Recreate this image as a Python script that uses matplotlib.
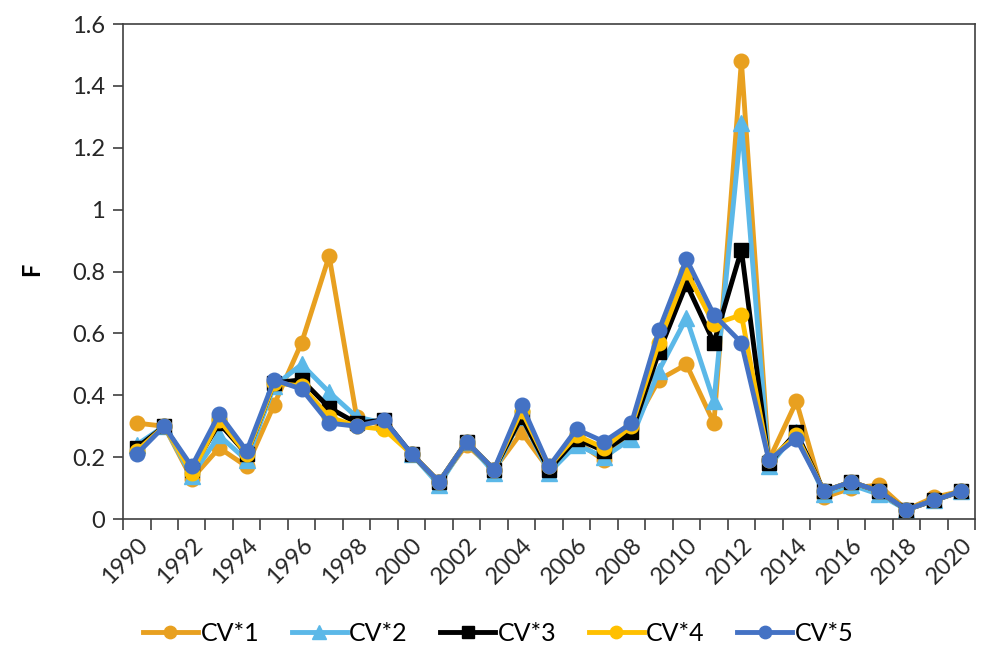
import matplotlib
matplotlib.use("Agg")
import matplotlib.pyplot as plt
import numpy as np

years = list(range(1990, 2021))
cv1 = [0.31, 0.30, 0.13, 0.23, 0.17, 0.37, 0.57, 0.85, 0.33, 0.30, 0.21, 0.12, 0.24, 0.16, 0.28, 0.16,
       0.25, 0.19, 0.29, 0.45, 0.50, 0.31, 1.48, 0.19, 0.38, 0.07, 0.10, 0.11, 0.03, 0.07, 0.09]
cv2 = [0.24, 0.30, 0.14, 0.27, 0.19, 0.43, 0.50, 0.41, 0.33, 0.31, 0.21, 0.11, 0.25, 0.15, 0.33, 0.15,
       0.24, 0.20, 0.26, 0.48, 0.65, 0.38, 1.28, 0.17, 0.28, 0.08, 0.11, 0.08, 0.03, 0.06, 0.09]
cv3 = [0.23, 0.30, 0.16, 0.31, 0.21, 0.44, 0.45, 0.36, 0.31, 0.32, 0.21, 0.12, 0.25, 0.16, 0.33, 0.16,
       0.26, 0.22, 0.28, 0.54, 0.76, 0.57, 0.87, 0.18, 0.28, 0.09, 0.12, 0.09, 0.03, 0.06, 0.09]
cv4 = [0.22, 0.30, 0.15, 0.32, 0.21, 0.44, 0.43, 0.33, 0.30, 0.29, 0.21, 0.12, 0.25, 0.16, 0.35, 0.17,
       0.27, 0.23, 0.30, 0.57, 0.80, 0.63, 0.66, 0.19, 0.27, 0.09, 0.12, 0.09, 0.03, 0.06, 0.09]
cv5 = [0.21, 0.30, 0.17, 0.34, 0.22, 0.45, 0.42, 0.31, 0.30, 0.32, 0.21, 0.12, 0.25, 0.16, 0.37, 0.17,
       0.29, 0.25, 0.31, 0.61, 0.84, 0.66, 0.57, 0.19, 0.26, 0.09, 0.12, 0.09, 0.03, 0.06, 0.09]
labels = ["CV*1", "CV*2", "CV*3", "CV*4", "CV*5"]
x_labels = [str(y) for y in range(1990, 2021, 2)]

plt.rcParams['font.family'] = ['Lato', 'DejaVu Sans']

fig = plt.figure(figsize=(9.81, 6.65), dpi=100)
ax = fig.add_axes([0.1254, 0.2195, 0.8685, 0.7444])

styles = [
    dict(color='#E8A020', marker='o', ms=10.5),
    dict(color='#5BB8E8', marker='^', ms=12),
    dict(color='#000000', marker='s', ms=10.5),
    dict(color='#FFC000', marker='o', ms=10.5),
    dict(color='#4472C4', marker='o', ms=10.5),
]
for data, lab, st in zip([cv1, cv2, cv3, cv4, cv5], labels, styles):
    ax.plot(years, data, label=lab, lw=3.5, color=st['color'], marker=st['marker'],
            markersize=st['ms'], markerfacecolor=st['color'], markeredgecolor=st['color'])

ax.set_xlim(1989.5, 2020.5)
ax.set_ylim(0, 1.6)
ax.set_yticks(np.arange(0, 1.61, 0.2))
ax.set_yticklabels(['0', '0.2', '0.4', '0.6', '0.8', '1', '1.2', '1.4', '1.6'])
ax.set_xticks(np.arange(1989.5, 2020.6, 1))
ax.set_xticklabels([])
ax.set_xticks(list(range(1990, 2021, 2)), minor=True)
ax.set_xticklabels(x_labels, minor=True, rotation=45, ha='right', rotation_mode='anchor')
ax.tick_params(axis='x', which='minor', length=0, pad=11, labelsize=17)
ax.tick_params(axis='x', which='major', length=8, width=1.2, color='#404040', direction='out')
ax.tick_params(axis='y', length=7, width=1.2, color='#404040', direction='out', labelsize=17, pad=6)
for lbl in ax.get_xticklabels(minor=True) + ax.get_yticklabels():
    lbl.set_color('#262626')
for s in ax.spines.values():
    s.set_color('#404040')
    s.set_linewidth(1.2)

fig.text(0.032, 0.595, 'F', rotation=90, fontsize=17, fontweight='bold', ha='center', va='center')

fig.legend(loc='center', bbox_to_anchor=(0.508, 0.048), ncol=5, frameon=False, fontsize=18,
           handlelength=2.2, columnspacing=1.3, handletextpad=0.1, markerscale=0.85)

fig.savefig('out.png', dpi=100)
